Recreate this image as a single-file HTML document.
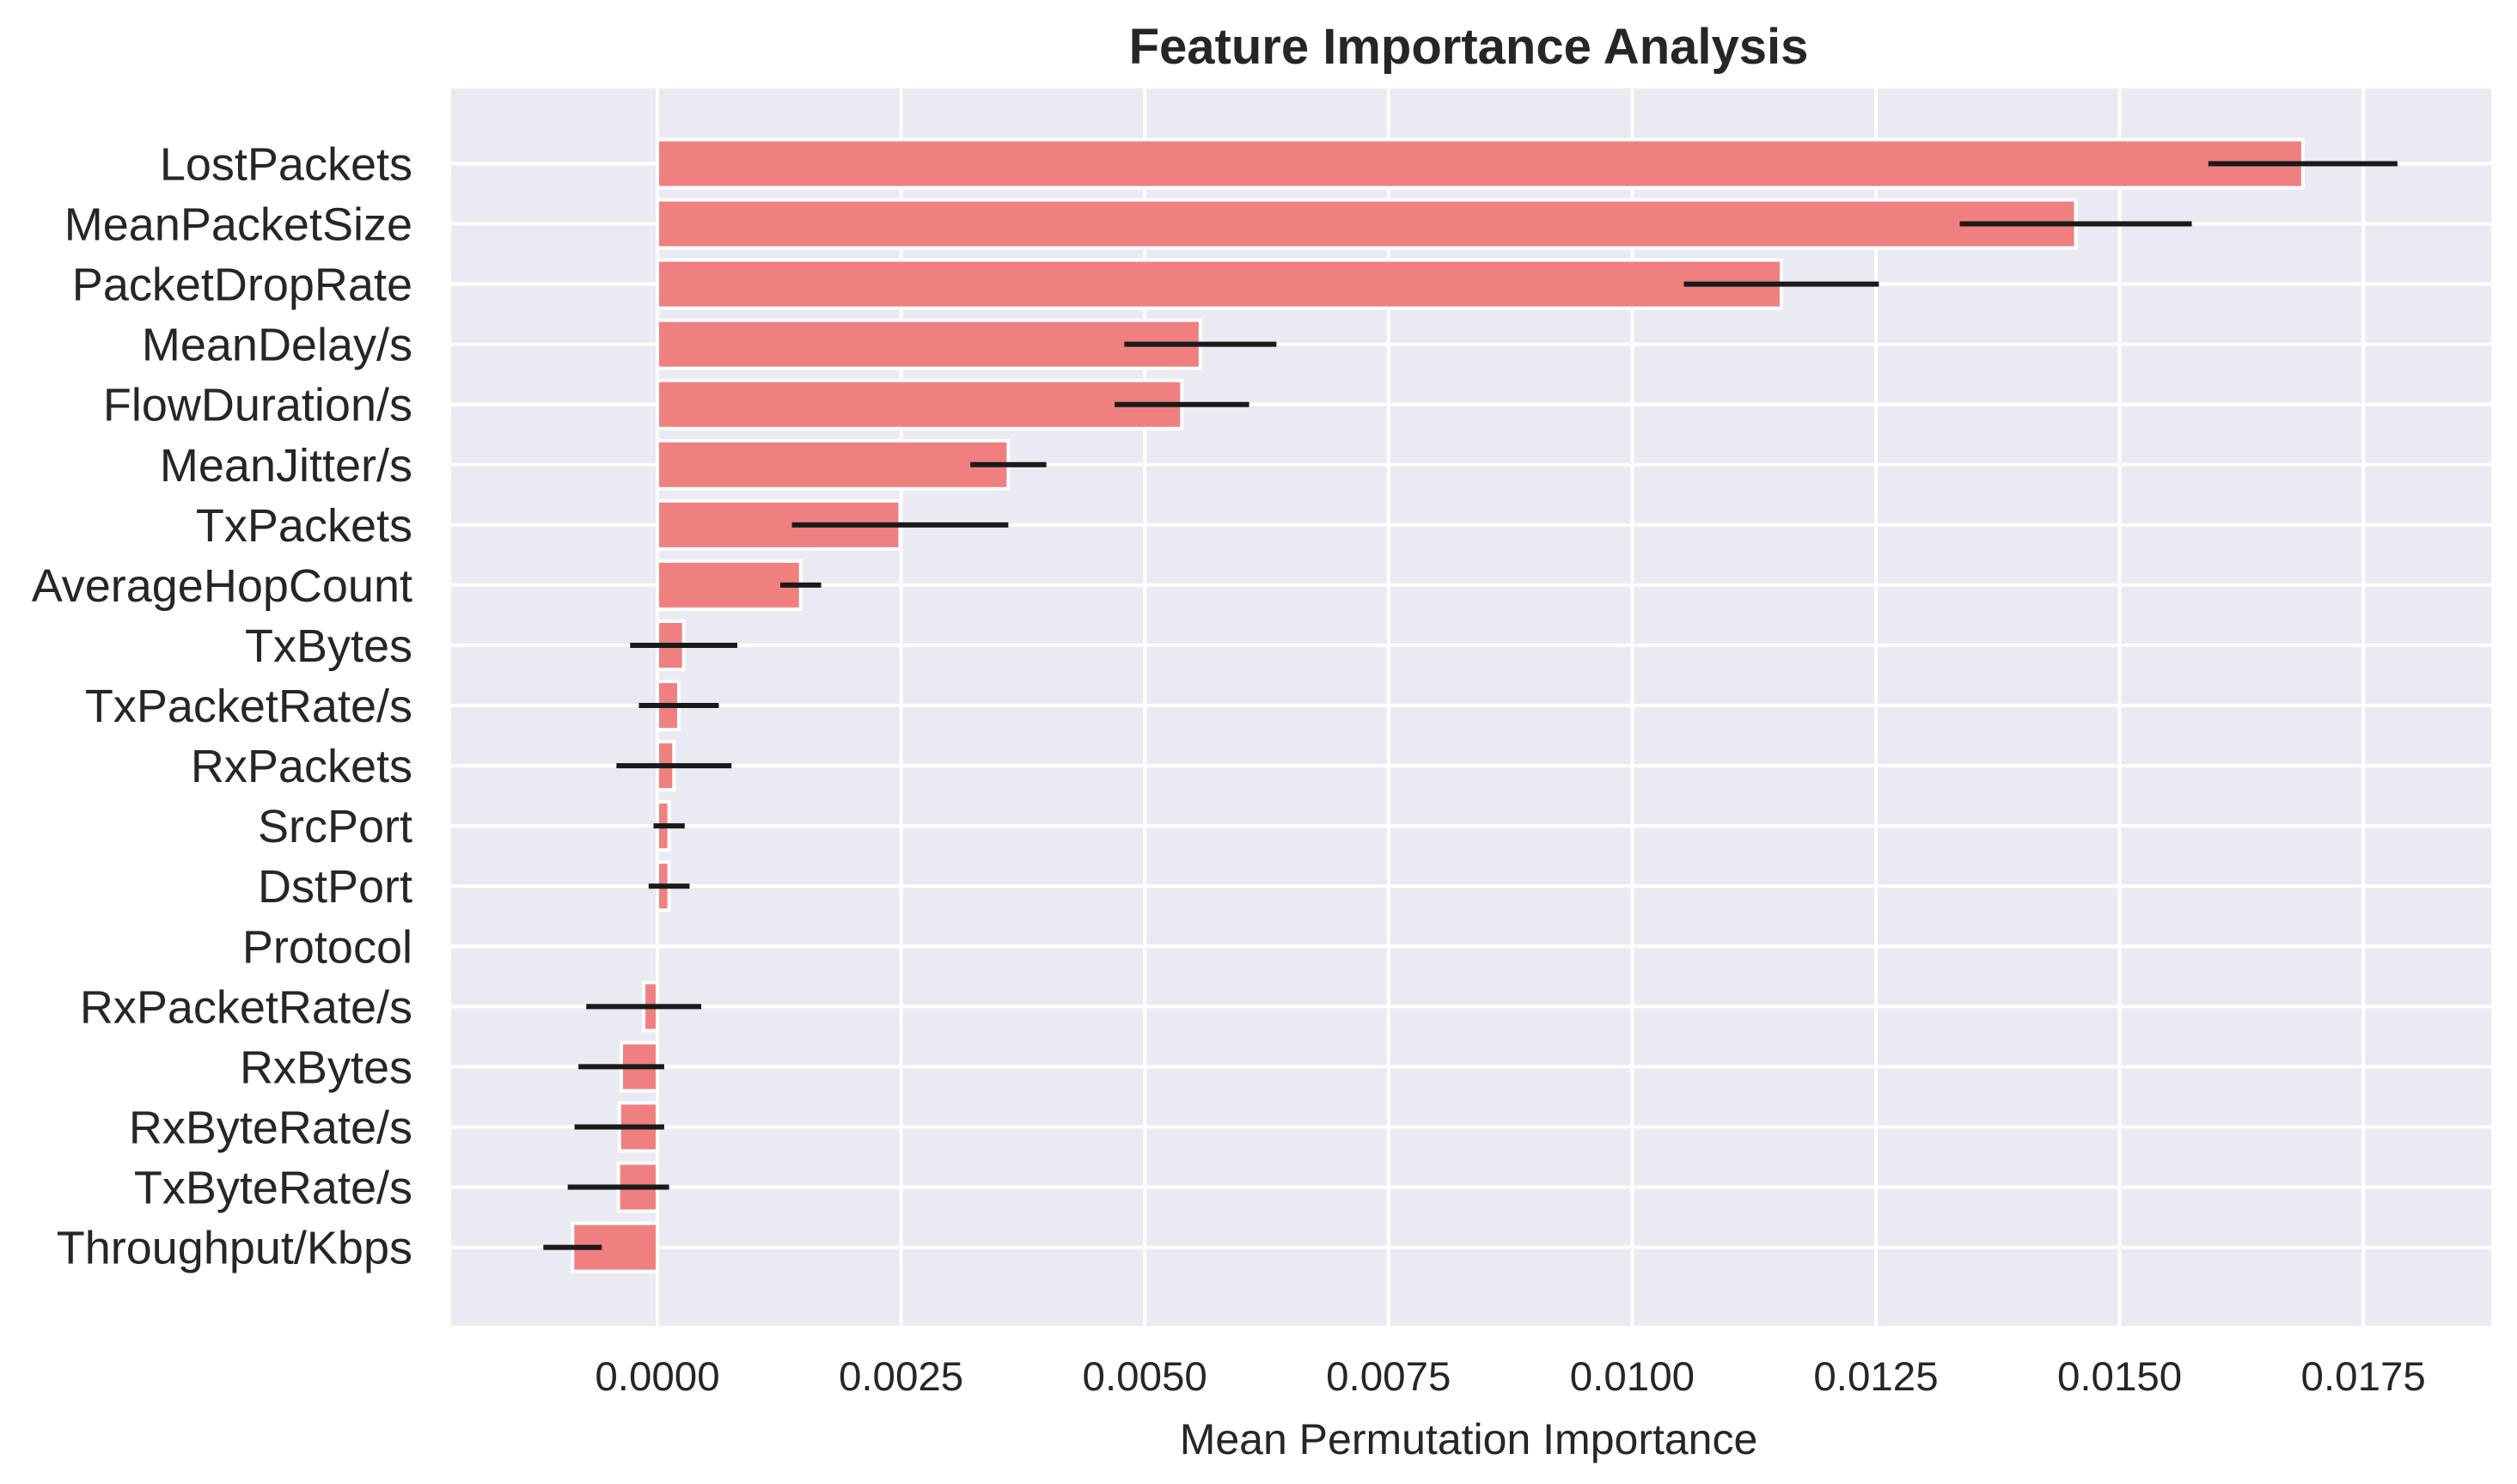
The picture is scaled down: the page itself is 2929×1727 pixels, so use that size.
<!DOCTYPE html>
<html><head><meta charset="utf-8"><style>
html,body{margin:0;padding:0;background:#fff;}
svg{display:block;font-family:"Liberation Sans",Arial,sans-serif;}
</style></head><body>
<svg id="chart" width="2929" height="1727" viewBox="0 0 2929 1727" xmlns="http://www.w3.org/2000/svg">
<text x="1709" y="74" text-anchor="middle" font-size="58" font-weight="bold" fill="#262626">Feature Importance Analysis</text>
<rect x="525" y="103" width="2374" height="1440" fill="#eaeaf2"/>
<g id="grid"></g>
<g id="bars"></g>
<g id="errs"></g>
<g id="xticks"></g>
<g id="yticks"></g>
<text x="1709" y="1692" text-anchor="middle" font-size="50" fill="#262626">Mean Permutation Importance</text>
</svg>
<script>
const categories = ["LostPackets","MeanPacketSize","PacketDropRate","MeanDelay/s","FlowDuration/s","MeanJitter/s","TxPackets","AverageHopCount","TxBytes","TxPacketRate/s","RxPackets","SrcPort","DstPort","Protocol","RxPacketRate/s","RxBytes","RxByteRate/s","TxByteRate/s","Throughput/Kbps"];
const importances = [0.01688,0.01455,0.01153,0.00557,0.00538,0.0036,0.00249,0.00147,0.00027,0.00022,0.00017,0.00012,0.00012,0,-0.00014,-0.00037,-0.00039,-0.0004,-0.00087];
const errors = [0.00097,0.00119,0.001,0.00078,0.00069,0.00039,0.00111,0.00021,0.00055,0.00041,0.00059,0.00016,0.00021,0,0.00059,0.00044,0.00046,0.00052,0.0003];
const xTicks = [0,0.0025,0.005,0.0075,0.01,0.0125,0.015,0.0175];
const xTickLabels = ["0.0000","0.0025","0.0050","0.0075","0.0100","0.0125","0.0150","0.0175"];

const NS="http://www.w3.org/2000/svg";
function xs(v){return 765 + v/0.0025*283.6;}
function ys(i){return 190.5 + i*70.06;}
function mk(tag,attrs,parent){const e=document.createElementNS(NS,tag);for(const k in attrs)e.setAttribute(k,attrs[k]);parent.appendChild(e);return e;}
const grid=document.getElementById('grid'),bars=document.getElementById('bars'),errs=document.getElementById('errs'),xt=document.getElementById('xticks'),yt=document.getElementById('yticks');
xTicks.forEach((t,i)=>{
  const l=mk('line',{x1:xs(t),x2:xs(t),y1:103,y2:1543,stroke:'#fff','stroke-width':4},grid);
  
  
  const tx=mk('text',{x:xs(t),y:1618,'text-anchor':'middle','font-size':47.5,fill:'#262626'},xt);
  tx.textContent=xTickLabels[i];
  
  
});
categories.forEach((c,i)=>{
  const y=ys(i);
  const l=mk('line',{x1:525,x2:2899,y1:y,y2:y,stroke:'#fff','stroke-width':4},grid);
  
  
  const v=importances[i];
  const x0=Math.min(xs(0),xs(v)),w=Math.abs(xs(v)-xs(0));
  if(w>0){
    const r=mk('rect',{x:x0,y:y-28,width:w,height:56,fill:'#f08080',stroke:'#fff','stroke-width':4},bars);
    
    
  }
  if(errors[i]>0){
    const e=mk('line',{x1:xs(v-errors[i]),x2:xs(v+errors[i]),y1:y,y2:y,stroke:'#1a1a1a','stroke-width':6},errs);
    
    
  }
  const t=mk('text',{x:480,y:y+19,'text-anchor':'end','font-size':54,fill:'#262626'},yt);
  t.textContent=c;
  
  
});
</script>
</body></html>
